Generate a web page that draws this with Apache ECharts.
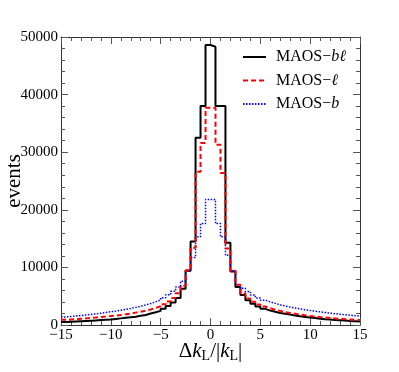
<!DOCTYPE html>
<html>
<head>
<meta charset="utf-8">
<script src="https://cdn.jsdelivr.net/npm/echarts@6/dist/echarts.min.js"></script>
<style>html,body{margin:0;padding:0;background:#fff}#c{width:399px;height:372px}</style>
</head>
<body>
<div id="c"></div>
<script>
// Histogram binning (bin left edge of first bin, bin width)
const binStart = -15;
const binWidth = 0.5;
// Series values per bin (60 bins from -15 to 15)
const maosBL = [500,550,600,650,700,750,800,850,900,950,1050,1150,1250,1350,1450,1600,1750,2000,2200,2450,2800,3300,3900,4700,6300,9400,14500,32500,38000,48600,
                48300,38000,38000,14300,9300,6600,5200,4300,3700,3200,2800,2500,2300,2100,1950,1800,1650,1500,1400,1300,1200,1100,1000,950,880,820,760,700,650,600];
const maosL  = [900,950,1000,1080,1150,1230,1300,1380,1460,1550,1650,1750,1870,2000,2150,2300,2500,2700,2950,3250,3600,4100,4700,5500,6800,9500,13400,26600,31600,37700,
                37700,31300,26400,13300,9400,7000,5500,4600,4050,3550,3200,2900,2650,2450,2250,2100,1950,1800,1680,1570,1470,1380,1300,1220,1150,1080,1020,960,900,850];
const maosB  = [1400,1480,1560,1650,1740,1840,1940,2050,2170,2300,2430,2570,2720,2880,3060,3260,3480,3730,4020,4350,4750,5250,5850,6600,7600,9400,11700,15300,17600,21800,
                21800,17600,15300,12100,9400,7000,6400,5800,5200,4700,4300,4000,3750,3500,3300,3100,2950,2800,2650,2520,2400,2280,2170,2060,1960,1870,1780,1700,1620,1550];
const xTicks = [-15,-10,-5,0,5,10,15];
const yTicks = [0,10000,20000,30000,40000,50000];

function stepData(vals){
  const d = vals.map((v,i)=>[binStart + i*binWidth, v]);
  d.push([binStart + vals.length*binWidth, vals[vals.length-1]]);
  return d;
}
const SERIF = '"Liberation Serif","DejaVu Serif",serif';
const chart = echarts.init(document.getElementById('c'), null, {renderer:'canvas'});
const axisLine = {show:true, onZero:false, lineStyle:{color:'#333', width:1}};
const tickCol = '#555';
chart.setOption({
  animation:false,
  backgroundColor:'#fff',
  grid:{left:61, right:39, top:37, bottom:47, containLabel:false, outerBoundsMode:'none'},
  legend:{
    orient:'vertical', left:237, top:44,
    itemWidth:23, itemHeight:14, itemGap:7.5,
    itemStyle:{opacity:0},
    textStyle:{fontFamily:SERIF, fontSize:16, color:'#000', padding:[0,0,0,5],
      rich:{i:{fontFamily:SERIF, fontSize:16, fontStyle:'italic', color:'#000'}}},
    formatter:function(n){
      if(n==='MAOS−bℓ') return 'MAOS−{i|bℓ}';
      if(n==='MAOS−ℓ') return 'MAOS−{i|ℓ}';
      return 'MAOS−{i|b}';
    },
    data:['MAOS−bℓ','MAOS−ℓ','MAOS−b']
  },
  xAxis:[{
    type:'value', min:-15, max:15, interval:5,
    axisLine:axisLine,
    axisTick:{show:true, inside:true, length:7, lineStyle:{color:tickCol}},
    minorTick:{show:true, splitNumber:5, length:4, lineStyle:{color:tickCol}},
    splitLine:{show:false},
    axisLabel:{fontFamily:SERIF, fontSize:15, color:'#000', margin:3,
      formatter:function(v){return v<0?'−'+Math.abs(v):String(v);}},
    name:'{n|Δ}{i|k}{s|L}{n|/|}{i|k}{s|L}{n||}',
    nameLocation:'middle', nameGap:15, nameMoveOverlap:false,
    nameTextStyle:{fontFamily:SERIF, fontSize:21, color:'#000',
      rich:{n:{fontFamily:SERIF,fontSize:21,color:'#000'},
            i:{fontFamily:SERIF,fontSize:21,fontStyle:'italic',color:'#000'},
            s:{fontFamily:SERIF,fontSize:14,color:'#000',padding:[9,0,0,0]}}}
  },{
    type:'value', min:-15, max:15, interval:5, position:'top',
    axisLine:axisLine,
    axisTick:{show:true, inside:true, length:7, lineStyle:{color:tickCol}},
    minorTick:{show:true, splitNumber:5, length:4, lineStyle:{color:tickCol}},
    splitLine:{show:false}, axisLabel:{show:false}
  }],
  yAxis:[{
    type:'value', min:0, max:50000, interval:10000,
    axisLine:axisLine,
    axisTick:{show:true, inside:true, length:7, lineStyle:{color:tickCol}},
    minorTick:{show:true, splitNumber:5, length:4, lineStyle:{color:tickCol}},
    splitLine:{show:false},
    axisLabel:{fontFamily:SERIF, fontSize:15, color:'#000', margin:3,
      formatter:function(v){return String(v);}},
    name:'events', nameLocation:'middle', nameGap:36, nameRotate:90, nameMoveOverlap:false,
    nameTextStyle:{fontFamily:SERIF, fontSize:21, color:'#000'}
  },{
    type:'value', min:0, max:50000, interval:10000, position:'right',
    axisLine:axisLine,
    axisTick:{show:true, inside:true, length:7, lineStyle:{color:tickCol}},
    minorTick:{show:true, splitNumber:5, length:4, lineStyle:{color:tickCol}},
    splitLine:{show:false}, axisLabel:{show:false}
  }],
  series:[
    {name:'MAOS−b', type:'line', step:'end', symbol:'none', data:stepData(maosB),
     lineStyle:{color:'#0000ff', width:1.5, type:[1.5,1.5]}, itemStyle:{color:'#0000ff'}, z:3},
    {name:'MAOS−ℓ', type:'line', step:'end', symbol:'none', data:stepData(maosL),
     lineStyle:{color:'#ff0000', width:2, type:[5,3]}, itemStyle:{color:'#ff0000'}, z:4},
    {name:'MAOS−bℓ', type:'line', step:'end', symbol:'none', data:stepData(maosBL),
     lineStyle:{color:'#000000', width:2, type:'solid'}, itemStyle:{color:'#000000'}, z:2}
  ]
});
</script>
</body>
</html>
